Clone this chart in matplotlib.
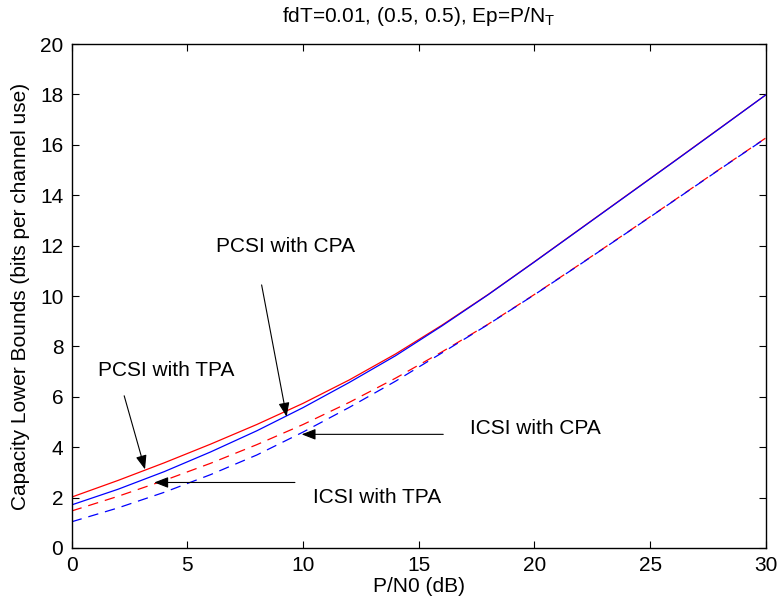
import matplotlib
matplotlib.use("Agg")
import matplotlib.pyplot as plt

plt.rcParams['font.family'] = ['Liberation Sans', 'DejaVu Sans']
plt.rcParams['lines.scale_dashes'] = False
plt.rcParams['mathtext.fontset'] = 'custom'
plt.rcParams['mathtext.rm'] = 'Liberation Sans'

# P/N0 grid (dB)
snr_db = [0, 2, 4, 6, 8, 10, 12, 14, 16, 18, 20, 22, 24, 26, 28, 30]

# Capacity lower bounds (bits per channel use)
pcsi_tpa = [2.02, 2.68, 3.38, 4.12, 4.90, 5.74, 6.67, 7.70, 8.84, 10.06,
            11.36, 12.68, 14.00, 15.32, 16.65, 17.98]
pcsi_cpa = [1.71, 2.33, 3.03, 3.81, 4.65, 5.57, 6.57, 7.63, 8.81, 10.05,
            11.35, 12.67, 13.99, 15.31, 16.64, 17.98]
icsi_tpa = [1.47, 2.05, 2.68, 3.36, 4.10, 4.90, 5.78, 6.74, 7.78, 8.88,
            10.06, 11.28, 12.52, 13.77, 15.03, 16.27]
icsi_cpa = [1.04, 1.59, 2.21, 2.91, 3.69, 4.60, 5.58, 6.62, 7.74, 8.87,
            10.05, 11.27, 12.51, 13.76, 15.02, 16.26]

# Annotation labels, text anchors and arrow (tail, tip) points
labels = ["PCSI with CPA", "PCSI with TPA", "ICSI with CPA", "ICSI with TPA"]
label_xy = [(6.24, 11.98), (1.14, 7.06), (17.2, 4.76), (10.43, 2.02)]
arrow_tail = [(8.21, 10.44), (2.27, 6.04), (16.06, 4.51), (9.65, 2.60)]
arrow_tip = [(9.29, 5.21), (3.17, 3.12), (9.94, 4.51), (3.57, 2.60)]

FS = 15

fig = plt.figure(figsize=(7.79, 6.07), dpi=100)
ax = fig.add_axes([0.092, 0.0972, 0.891, 0.8303])

lw = 0.9
dash = (7.5, 5.0)
ax.plot(snr_db, pcsi_tpa, color='red', lw=lw)
ax.plot(snr_db, icsi_tpa, color='red', lw=lw, dashes=dash)
ax.plot(snr_db, pcsi_cpa, color='blue', lw=lw)
ax.plot(snr_db, icsi_cpa, color='blue', lw=lw, dashes=dash)

for lab, (tx, ty) in zip(labels, label_xy):
    ax.text(tx, ty, lab, fontsize=FS, ha='left', va='center')

for tail, tip in zip(arrow_tail, arrow_tip):
    ax.annotate('', xy=tip, xytext=tail,
                arrowprops=dict(arrowstyle='-|>,head_length=0.85,head_width=0.33',
                                color='black', lw=0.8, shrinkA=0, shrinkB=0,
                                mutation_scale=10))

ax.set_xlim(0, 30)
ax.set_ylim(0, 20)
ax.set_xticks(range(0, 31, 5))
ax.set_yticks(range(0, 21, 2))
ax.tick_params(direction='in', length=5, width=0.8, top=True, right=True,
               labelsize=FS, pad=6)
for s in ax.spines.values():
    s.set_linewidth(1.0)

ax.set_xlabel('P/N0 (dB)', fontsize=FS, labelpad=1)
ax.set_ylabel('Capacity Lower Bounds (bits per channel use)', fontsize=FS, labelpad=7)
ax.set_title(r'fdT=0.01, (0.5, 0.5), Ep=P/N$_\mathregular{T}$', fontsize=FS, pad=16)

fig.savefig('out.png', dpi=100)
